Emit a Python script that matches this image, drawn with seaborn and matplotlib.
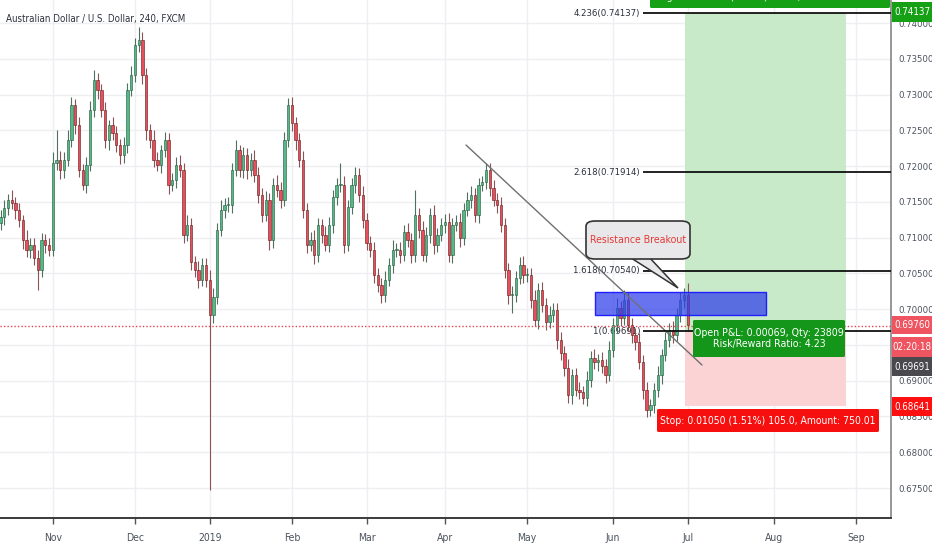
import matplotlib
matplotlib.use("Agg")
import matplotlib.pyplot as plt
from matplotlib import font_manager as fm
from matplotlib.patches import Rectangle, FancyBboxPatch, Polygon
import numpy as np
import pandas as pd
import seaborn as sns

# AUD/USD daily bars (Oct 12 2018 .. Jul 1 2019)
first_open = 0.7120
closes = [
    0.7129, 0.7141, 0.7153, 0.7148, 0.7138, 0.7124, 0.7097, 0.7083, 0.7090, 0.7071,
    0.7055, 0.7097, 0.7090, 0.7083, 0.7204, 0.7209, 0.7195, 0.7209, 0.7236, 0.7285,
    0.7257, 0.7195, 0.7174, 0.7202, 0.7278, 0.7320, 0.7306, 0.7278, 0.7236, 0.7257,
    0.7246, 0.7229, 0.7215, 0.7229, 0.7306, 0.7327, 0.7369, 0.7376, 0.7327, 0.7250,
    0.7236, 0.7209, 0.7202, 0.7222, 0.7236, 0.7174, 0.7181, 0.7202, 0.7195, 0.7104,
    0.7118, 0.7066, 0.7055, 0.7041, 0.7062, 0.7041, 0.6992, 0.7017, 0.7111, 0.7139,
    0.7146, 0.7146, 0.7195, 0.7222, 0.7195, 0.7215, 0.7195, 0.7209, 0.7188, 0.7160,
    0.7132, 0.7153, 0.7097, 0.7174, 0.7167, 0.7153, 0.7236, 0.7285, 0.7260, 0.7236,
    0.7209, 0.7139, 0.7090, 0.7097, 0.7076, 0.7118, 0.7104, 0.7090, 0.7118, 0.7157,
    0.7174, 0.7174, 0.7090, 0.7143, 0.7174, 0.7188, 0.7160, 0.7125, 0.7092, 0.7083,
    0.7048, 0.7034, 0.7020, 0.7041, 0.7062, 0.7083, 0.7083, 0.7076, 0.7108, 0.7097,
    0.7076, 0.7132, 0.7111, 0.7076, 0.7104, 0.7132, 0.7090, 0.7104, 0.7118, 0.7122,
    0.7076, 0.7118, 0.7122, 0.7099, 0.7139, 0.7153, 0.7160, 0.7132, 0.7174, 0.7178,
    0.7195, 0.7169, 0.7153, 0.7146, 0.7118, 0.7055, 0.7020, 0.7020, 0.7044, 0.7062,
    0.7048, 0.7048, 0.7013, 0.6985, 0.7027, 0.7006, 0.6982, 0.6992, 0.6999, 0.6957,
    0.6939, 0.6918, 0.6880, 0.6908, 0.6887, 0.6884, 0.6876, 0.6901, 0.6932, 0.6926,
    0.6929, 0.6921, 0.6908, 0.6943, 0.6978, 0.7002, 0.6988, 0.7013, 0.6978, 0.6964,
    0.6954, 0.6926, 0.6887, 0.6859, 0.6866, 0.6887, 0.6908, 0.6936, 0.6957, 0.6971,
    0.6964, 0.6992, 0.7013, 0.7020, 0.6978,
]
# upper / lower wick beyond the body, in pips
up_pips = [
    10, 12, 8, 14, 9, 11, 8, 13, 10, 9,
    12, 10, 8, 9, 15, 41, 12, 10, 14, 12,
    9, 11, 8, 10, 13, 14, 10, 9, 12, 8,
    11, 10, 9, 12, 10, 13, 10, 18, 12, 10,
    9, 14, 10, 8, 12, 10, 9, 11, 13, 10,
    14, 9, 8, 12, 10, 9, 14, 12, 10, 13,
    9, 11, 10, 14, 8, 12, 10, 9, 13, 11,
    10, 12, 9, 10, 14, 11, 12, 10, 11, 9,
    10, 12, 9, 11, 13, 10, 8, 12, 11, 10,
    9, 30, 12, 10, 9, 11, 10, 12, 9, 10,
    11, 9, 10, 12, 10, 13, 9, 11, 10, 12,
    10, 35, 9, 12, 11, 10, 13, 9, 10, 11,
    12, 10, 9, 13, 10, 11, 12, 9, 10, 8,
    10, 9, 12, 10, 11, 9, 10, 12, 10, 11,
    13, 10, 9, 14, 10, 11, 9, 12, 10, 9,
    11, 10, 12, 9, 10, 11, 9, 13, 10, 12,
    9, 11, 10, 12, 10, 13, 9, 14, 11, 10,
    9, 12, 10, 11, 9, 10, 12, 9, 11, 10,
    12, 10, 11, 9, 16,
]
dn_pips = [
    9, 11, 10, 8, 12, 9, 13, 10, 11, 9,
    28, 10, 12, 9, 8, 10, 13, 11, 9, 10,
    12, 10, 8, 11, 9, 10, 12, 9, 11, 13,
    10, 9, 12, 10, 11, 8, 10, 9, 12, 14,
    11, 10, 9, 12, 10, 13, 9, 11, 10, 12,
    9, 11, 10, 12, 9, 10, 245, 12, 10, 9,
    11, 10, 12, 9, 10, 11, 13, 9, 10, 12,
    10, 9, 14, 11, 10, 12, 9, 10, 11, 13,
    10, 12, 11, 9, 13, 10, 12, 9, 10, 11,
    12, 10, 11, 9, 10, 12, 10, 11, 9, 10,
    12, 10, 11, 10, 9, 12, 10, 11, 9, 10,
    11, 10, 12, 9, 10, 11, 13, 10, 9, 12,
    10, 11, 9, 12, 10, 9, 11, 10, 12, 9,
    10, 11, 9, 12, 10, 11, 13, 25, 10, 9,
    11, 10, 12, 9, 13, 10, 11, 9, 10, 12,
    10, 12, 11, 13, 9, 10, 8, 11, 10, 9,
    12, 10, 11, 9, 10, 12, 11, 10, 9, 12,
    11, 10, 12, 10, 9, 11, 10, 12, 9, 10,
    11, 9, 10, 12, 8,
]
holidays = ["2018-12-25", "2019-01-01"]

fib_levels = [4.236, 2.618, 1.618, 1]
fib_prices = [0.74137, 0.71914, 0.70540, 0.69691]
entry_price = 0.69691
stop_price = 0.68641
target_price = 0.74137
last_price = 0.69760
zone_top = 0.70240
zone_bottom = 0.69918
price_ticks = [0.675, 0.680, 0.685, 0.690, 0.695, 0.700, 0.705, 0.710,
               0.715, 0.720, 0.725, 0.730, 0.735, 0.740]
hidden_ticks = [0.695]  # covered by the countdown tag in the screenshot

sns.set_theme(style="white")

# the screenshot text is narrow: take a condensed face if one is installed
faces = {(f.name, f.stretch) for f in fm.fontManager.ttflist}
narrow = "DejaVu Sans"
if any(n == "Liberation Sans Narrow" for n, s in faces):
    narrow = "Liberation Sans Narrow"
elif ("DejaVu Sans", "condensed") in faces or ("DejaVu Sans", "semi-condensed") in faces:
    plt.rcParams["font.stretch"] = "condensed"
elif any(n == "Roboto" for n, s in faces):
    narrow = "Roboto"
plt.rcParams["font.family"] = [narrow, "DejaVu Sans"]

cal = pd.bdate_range("2018-10-12", "2019-09-30", freq="C", holidays=holidays)
df = pd.DataFrame({"date": cal[:len(closes)], "close": closes,
                   "up": up_pips, "dn": dn_pips})
df["open"] = df["close"].shift(1).fillna(first_open)
df["high"] = df[["open", "close"]].max(axis=1) + df["up"] / 10000
df["low"] = df[["open", "close"]].min(axis=1) - df["dn"] / 10000
df["x"] = np.arange(len(df))
rising = df["close"] >= df["open"]

W, H = 932, 550
fig = plt.figure(figsize=(W / 100, H / 100), dpi=100)
ax = fig.add_axes([0, 32 / H, 891 / W, 518 / H])

# pixel helpers for the drawn annotations (layout only)
def bx(px):
    return (px - 0.5) / 3.735

def py(p):
    return 0.74 - (p - 23) / 7154

def fx(px):
    return px / W

def fy(p):
    return 1 - p / H

x_right = bx(891)
ax.set_xlim(bx(0), x_right)
ax.set_ylim(py(518), py(0))

# grid
cal_s = pd.Series(cal)
firsts = cal_s.groupby([cal_s.dt.year, cal_s.dt.month]).head(1).iloc[1:]
month_pos = list(firsts.index)
month_lab = ["2019" if d.month == 1 else d.strftime("%b") for d in firsts]
for m in month_pos:
    ax.axvline(m, color="#eeeff3", lw=1, zorder=0)
for t in price_ticks:
    ax.axhline(t, color="#eeeff3", lw=1, zorder=0)

# risk / reward zones
ax.add_patch(Rectangle((bx(685), entry_price), bx(846) - bx(685),
                       target_price - entry_price, fc="#c9eac9", ec="none", zorder=0.5))
ax.add_patch(Rectangle((bx(685), stop_price), bx(846) - bx(685),
                       entry_price - stop_price, fc="#fbd3d4", ec="none", zorder=0.5))

# fib labels sit under the candles
for lvl, p in zip(fib_levels, fib_prices):
    ax.text(bx(640), p, f"{lvl:g}({p:.5f})", ha="right", va="center",
            fontsize=6.8, color="#2a2e39", zorder=1.5)

# candles
ax.vlines(df["x"], df["low"], df["high"],
          colors=np.where(rising, "#4f6f5f", "#8c5257"), lw=0.8, zorder=2)
body_lo = df[["open", "close"]].min(axis=1)
body_h = (df["close"] - df["open"]).abs().clip(lower=0.00008)
ax.bar(df["x"], body_h, bottom=body_lo, width=0.62,
       color=np.where(rising, "#53b987", "#eb4d5c"),
       edgecolor=np.where(rising, "#225437", "#5b1a13"), linewidth=0.4, zorder=2.5)

# resistance zone
ax.add_patch(Rectangle((bx(595), zone_bottom), bx(766) - bx(595), zone_top - zone_bottom,
                       fc=(0.18, 0.24, 0.92, 0.72), ec="#1f1fff", lw=1, zorder=3))

# trendline, fib lines, last price
ax.plot([bx(466), bx(702)], [py(145), py(365)], color="#707070", lw=1, zorder=4)
ax.hlines(fib_prices, bx(643), x_right, color="#111111", lw=1.3, zorder=4)
ax.axhline(last_price, color="#e0454f", ls=(0, (1, 1.5)), lw=1, zorder=4)

# axes styling
ax.yaxis.tick_right()
ax.set_yticks(price_ticks)
ax.set_yticklabels(["" if t in hidden_ticks else f"{t:.5f}" for t in price_ticks])
ax.set_xticks(month_pos)
ax.set_xticklabels(month_lab)
ax.tick_params(axis="y", length=4, width=1, color="#777777", labelsize=6.8,
               labelcolor="#4c525e", pad=1.2, right=True)
ax.tick_params(axis="x", length=4, width=1, color="#555555", labelsize=7.5,
               labelcolor="#4c525e", pad=7, bottom=True)
sns.despine(ax=ax, left=True, top=True, right=False, bottom=False)
ax.spines["right"].set_color("#8a8a8a")
ax.spines["bottom"].set_color("#3a3a3a")
ax.spines["bottom"].set_linewidth(1.4)
ax.grid(False)


def box(x0, y0, x1, y1, text, fc, fs=7.0, tc="white", rnd=2, ec="none", z=5):
    fig.add_artist(FancyBboxPatch((fx(x0), fy(y1)), fx(x1) - fx(x0), fy(y0) - fy(y1),
                                  boxstyle=f"round,pad=0,rounding_size={rnd / W}",
                                  transform=fig.transFigure, fc=fc, ec=ec, lw=1.2,
                                  zorder=z))
    fig.text(fx((x0 + x1) / 2), fy((y0 + y1) / 2), text, ha="center", va="center",
             fontsize=fs, color=tc, zorder=z + 1, linespacing=1.1)


# callout with a wedge pointing at the breakout high
fig.add_artist(Polygon([(fx(628), fy(256)), (fx(678), fy(288)), (fx(648), fy(256))],
                       closed=True, transform=fig.transFigure, fc="#e8e8eb",
                       ec="#333333", lw=1.1, zorder=6))
box(586, 221, 690, 259, "Resistance Breakout", "#e8e8eb", fs=7.6, tc="#e53935",
    rnd=9, ec="#333333", z=7)

# info boxes
box(650, -14, 890, 8, "Target: 0.04446 (6.38%) 444.6, Amount: 3175.59", "#16a016", fs=7.6)
box(693, 320, 845, 357, "Open P&L: 0.00069, Qty: 23809\nRisk/Reward Ratio: 4.23",
    "#14961a", fs=7.6)
box(657, 409, 879, 432, "Stop: 0.01050 (1.51%) 105.0, Amount: 750.01", "#f70f0f", fs=7.5)

# price scale tags
box(892, 2, 932, 22, f"{target_price:.5f}", "#16a016", rnd=0)
box(892, 316, 932, 334, f"{last_price:.5f}", "#ee5560", rnd=0)
box(892, 337, 932, 357, "02:20:18", "#ee5560", rnd=0)
box(892, 357, 932, 376, f"{entry_price:.5f}", "#4a4a4e", rnd=0)
box(892, 397, 932, 416, f"{stop_price:.5f}", "#ff1010", rnd=0)

fig.text(fx(6), fy(19), "Australian Dollar / U.S. Dollar, 240, FXCM",
         ha="left", va="center", fontsize=7, color="#2e3240")

fig.savefig("out.png", dpi=100)
